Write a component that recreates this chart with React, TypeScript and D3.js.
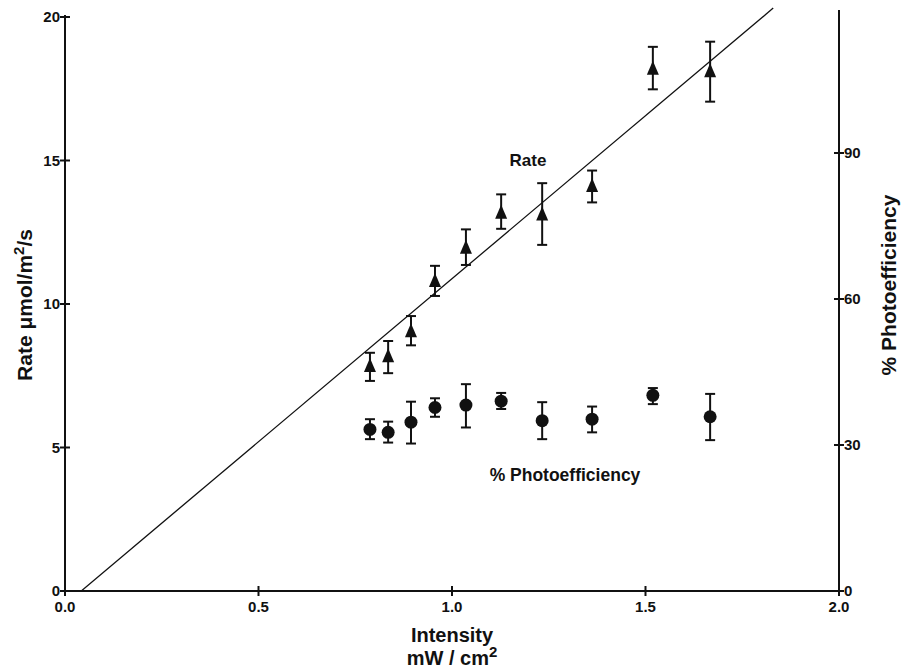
import React from "react";
import * as d3 from "d3";

const intensity = [0.788, 0.835, 0.894, 0.956, 1.036, 1.127, 1.233, 1.362, 1.519, 1.667];
const rate = [7.82, 8.16, 9.03, 10.78, 11.94, 13.16, 13.1, 14.09, 18.18, 18.09];
const rateHi = [8.3, 8.71, 9.58, 11.33, 12.6, 13.82, 14.21, 14.65, 18.96, 19.14];
const rateLo = [7.32, 7.59, 8.56, 10.28, 11.36, 12.62, 12.06, 13.54, 17.48, 17.05];
const eff = [33.2, 32.6, 34.7, 37.7, 38.2, 39.0, 35.0, 35.3, 40.2, 35.8];
const effHi = [35.3, 34.8, 38.9, 39.6, 42.5, 40.7, 38.8, 37.9, 41.7, 40.5];
const effLo = [31.2, 30.5, 30.3, 35.8, 33.6, 37.4, 31.2, 32.6, 38.4, 31.0];
const fitX = [0.042, 1.83];
const fitY = [0, 20.31];
const xTicks = [0, 0.5, 1.0, 1.5, 2.0];
const yTicks = [0, 5, 10, 15, 20];
const y2Ticks = [0, 30, 60, 90];

const W = 903;
const H = 669;
const FONT = "'Liberation Sans', Arial, Helvetica, sans-serif";

export default function App() {
  const x = d3.scaleLinear().domain([0, 2]).range([65, 839]);
  const y = d3.scaleLinear().domain([0, 20]).range([591, 17]);
  const y2 = d3.scaleLinear().domain([0, 120]).range([591, 7]);
  const line = d3.line<number>().x((d, i) => x(fitX[i])).y((d) => y(d));
  const tri = "M0,-8.5L6,5.5L-6,5.5Z";
  const cap = 5;

  return (
    <svg width={W} height={H} style={{ position: "absolute", left: 0, top: 0, background: "#fff" }}>
      <g fontFamily={FONT} fontWeight="bold" fill="#111">
        {/* axes */}
        <line x1={x(0)} x2={x(0)} y1={y(20) - 2} y2={y(0)} stroke="#111" strokeWidth={2} />
        <line x1={x(2)} x2={x(2)} y1={y2(120) + 3} y2={y(0)} stroke="#111" strokeWidth={2} />
        <line x1={x(0)} x2={x(2)} y1={y(0)} y2={y(0)} stroke="#111" strokeWidth={2} />
        {yTicks.map((t) => (
          <g key={"y" + t}>
            <line x1={x(0) - 5} x2={x(0) + 5} y1={y(t)} y2={y(t)} stroke="#111" strokeWidth={2} />
            <text x={x(0) - 5} y={y(t) + 5} textAnchor="end" fontSize={15}>{t}</text>
          </g>
        ))}
        {y2Ticks.map((t) => (
          <g key={"r" + t}>
            <line x1={x(2) - 5} x2={x(2) + 5} y1={y2(t)} y2={y2(t)} stroke="#111" strokeWidth={2} />
            <text x={x(2) + 5} y={y2(t) + 5} textAnchor="start" fontSize={15}>{t}</text>
          </g>
        ))}
        {xTicks.map((t) => (
          <g key={"x" + t}>
            <line x1={x(t)} x2={x(t)} y1={y(0) - 5} y2={y(0) + 5} stroke="#111" strokeWidth={2} />
            <text x={x(t)} y={612} textAnchor="middle" fontSize={15}>{t.toFixed(1)}</text>
          </g>
        ))}

        {/* axis titles */}
        <text x={452} y={642} textAnchor="middle" fontSize={20}>Intensity</text>
        <text x={452} y={665} textAnchor="middle" fontSize={20}>
          mW / cm<tspan dy={-8} fontSize={15}>2</tspan>
        </text>
        <text transform={`translate(32,305) rotate(-90)`} textAnchor="middle" fontSize={21}>
          Rate μmol/m<tspan dy={-8} fontSize={15}>2</tspan><tspan dy={8}>/s</tspan>
        </text>
        <text transform={`translate(896,285) rotate(-90)`} textAnchor="middle" fontSize={21}>
          % Photoefficiency
        </text>

        {/* fit line */}
        <path d={line(fitY) || ""} fill="none" stroke="#111" strokeWidth={1.3} />

        {/* rate points */}
        {intensity.map((v, i) => (
          <g key={"r" + i} stroke="#111" strokeWidth={2}>
            <line x1={x(v)} x2={x(v)} y1={y(rateHi[i])} y2={y(rateLo[i])} />
            <line x1={x(v) - cap} x2={x(v) + cap} y1={y(rateHi[i])} y2={y(rateHi[i])} />
            <line x1={x(v) - cap} x2={x(v) + cap} y1={y(rateLo[i])} y2={y(rateLo[i])} />
            <path d={tri} transform={`translate(${x(v)},${y(rate[i])})`} fill="#111" stroke="none" />
          </g>
        ))}

        {/* efficiency points */}
        {intensity.map((v, i) => (
          <g key={"e" + i} stroke="#111" strokeWidth={2}>
            <line x1={x(v)} x2={x(v)} y1={y2(effHi[i])} y2={y2(effLo[i])} />
            <line x1={x(v) - cap} x2={x(v) + cap} y1={y2(effHi[i])} y2={y2(effHi[i])} />
            <line x1={x(v) - cap} x2={x(v) + cap} y1={y2(effLo[i])} y2={y2(effLo[i])} />
            <circle cx={x(v)} cy={y2(eff[i])} r={6.5} fill="#111" stroke="none" />
          </g>
        ))}

        <text x={528} y={166} textAnchor="middle" fontSize={17}>Rate</text>
        <text x={565} y={481} textAnchor="middle" fontSize={17.5}>% Photoefficiency</text>
      </g>
    </svg>
  );
}
